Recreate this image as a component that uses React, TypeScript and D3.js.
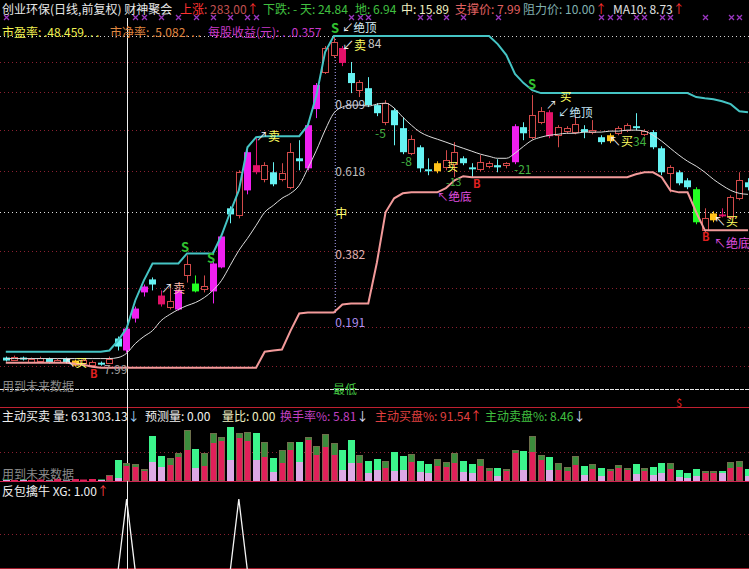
import React from "react";
import * as d3 from "d3";

const W = 749;
const H = 569;
const FONT = '"Noto Sans CJK SC","Noto Sans",sans-serif';

// candle kinds: c cyan, r hollow red, m magenta, k crimson, y yellow, g green
const KIND = ("crcrrcrcyrrcr" + "cmmmckrmrgrmm" + "crmkrcrrcmmrr" + "kcrccrccrccyr" + "rccrrcrmcrrkr" + "rrcrcyrrcrccr" + "ccgrykrrc").split("");

const OPEN = [8.51,8.41,8.51,8.31,8.36,8.46,8.31,8.46,8.10,8.25,8.15,8.25,8.25,
  9.48,8.87,10.49,11.82,12.48,11.66,11.05,10.95,12.68,12.27,12.02,11.87,13.09,
  16.09,15.73,17.00,18.28,17.56,17.92,17.56,17.16,18.63,18.12,21.13,23.01,23.87,
  24.23,22.96,22.09,22.19,21.33,20.46,21.07,20.16,18.89,19.19,18.07,17.97,18.17,
  18.33,18.63,18.17,18.07,18.23,18.28,18.28,18.43,20.21,19.70,20.46,20.97,19.80,
  20.01,19.96,20.11,19.96,19.70,19.50,19.90,20.06,20.26,19.85,19.96,19.14,17.87,
  17.92,17.51,17.06,14.97,15.48,15.78,15.63,16.60,17.41];
const HIGH = [8.56,8.61,8.56,8.51,8.56,8.51,8.46,8.51,8.41,8.46,8.36,8.31,8.56,
  9.58,10.04,11.10,12.22,12.58,11.92,12.02,11.97,13.70,12.68,12.68,13.44,14.77,
  16.19,18.02,19.04,19.65,18.43,18.43,18.38,19.40,19.55,20.41,22.45,24.33,24.84,
  24.33,23.52,22.60,22.75,21.43,21.58,21.18,20.72,19.80,19.29,18.63,18.48,19.04,
  19.45,18.73,18.38,18.79,18.48,18.58,18.43,20.36,20.46,21.84,21.23,21.07,20.31,
  20.26,20.82,20.31,20.57,19.80,19.90,20.26,20.41,20.92,20.11,20.06,19.24,18.28,
  18.02,17.62,17.16,16.09,15.94,16.09,16.75,17.92,17.62];
const LOW = [8.31,8.36,8.36,8.25,8.31,8.20,8.25,8.20,8.05,8.20,8.10,8.10,8.20,
  8.87,8.76,10.29,11.61,11.92,11.10,10.95,10.90,12.32,11.82,11.82,11.26,13.04,
  15.33,15.58,16.80,17.82,17.41,17.21,17.46,17.06,18.02,18.02,20.67,22.91,23.72,
  23.31,21.94,21.74,21.23,20.77,20.31,19.29,18.84,18.79,17.92,17.77,17.87,18.02,
  17.67,18.28,17.67,17.97,18.12,17.92,18.12,18.33,19.55,19.60,20.36,19.65,19.19,
  19.90,19.85,19.65,19.85,19.34,19.40,19.80,19.96,20.06,19.75,19.09,17.77,16.90,
  17.26,17.06,15.28,14.87,15.38,15.63,15.53,16.50,17.00];
const CLOSE = [8.36,8.56,8.41,8.46,8.51,8.25,8.41,8.25,8.36,8.41,8.31,8.15,8.46,
  9.07,9.98,11.00,12.12,12.22,11.21,11.36,11.92,13.24,11.87,12.17,13.29,14.66,
  15.78,17.92,18.94,17.92,18.28,17.31,17.87,18.94,18.48,20.31,22.35,24.23,24.53,
  23.47,22.45,22.50,21.33,20.92,21.43,20.31,18.94,19.60,18.12,17.97,18.38,18.53,
  18.94,18.38,18.07,18.43,18.38,18.17,18.38,20.26,19.90,20.82,21.02,19.75,20.21,
  20.16,20.36,19.96,20.06,19.45,19.80,20.16,20.31,20.16,20.01,19.19,17.92,18.17,
  17.36,17.16,15.38,15.58,15.83,15.68,16.65,17.51,17.16];

const RESIST = [8.81,8.81,8.81,8.81,8.81,8.81,8.81,8.81,8.81,8.81,8.81,8.81,8.87,
  9.37,10.00,11.41,12.43,13.29,13.29,13.29,13.29,13.80,13.80,13.80,13.80,14.72,
  15.89,17.00,19.19,19.70,19.75,19.75,19.75,19.75,19.75,20.31,21.84,24.02,24.84,
  24.84,24.84,24.84,24.84,24.84,24.84,24.84,24.84,24.84,24.84,24.84,24.84,24.84,
  24.84,24.84,24.84,24.84,24.84,24.43,23.87,22.91,22.45,22.09,21.94,21.94,21.94,
  21.94,21.94,21.94,21.94,21.94,21.94,21.94,21.94,21.94,21.94,21.94,21.94,21.94,
  21.94,21.94,21.74,21.68,21.63,21.53,21.38,21.02,20.97];
const SUPPORT = [8.25,8.25,8.25,8.25,8.25,8.25,8.25,8.25,8.20,8.15,8.05,7.99,7.99,
  7.99,7.99,7.99,7.99,7.99,7.99,7.99,7.99,7.99,7.99,7.99,7.99,7.99,
  7.99,7.99,7.99,7.99,8.81,8.87,8.92,9.88,10.75,10.80,10.80,10.80,10.80,
  11.21,11.26,11.26,11.26,13.34,15.89,16.60,16.85,16.90,16.90,16.90,16.90,17.11,
  17.51,17.72,17.67,17.67,17.67,17.67,17.67,17.67,17.67,17.67,17.67,17.67,17.67,
  17.67,17.67,17.67,17.67,17.67,17.67,17.67,17.67,17.82,17.92,17.92,17.67,17.00,
  16.90,16.90,15.89,14.97,14.97,14.97,14.97,14.97,14.97];
const MA10 = [8.46,8.46,8.46,8.46,8.46,8.46,8.46,8.46,8.46,8.46,8.46,8.46,8.46,
  8.51,8.73,9.22,9.58,9.88,10.39,10.70,10.95,11.15,11.31,11.56,11.92,12.43,
  13.19,13.95,14.56,15.22,15.89,16.24,16.60,16.85,17.26,18.12,19.04,20.06,20.92,
  21.23,21.33,21.33,21.28,21.38,21.43,21.18,20.72,20.31,19.96,19.75,19.60,19.45,
  19.29,19.14,18.99,18.84,18.73,18.63,18.63,18.89,19.24,19.55,19.70,19.80,19.85,
  19.90,19.90,19.96,19.96,19.96,20.01,20.01,20.06,20.06,20.01,19.80,19.50,19.14,
  18.79,18.48,18.23,17.92,17.56,17.26,17.00,16.85,16.80];

const VOL = [1.5,1,1.5,1,1.5,1,2,1,2,1.5,2,1.5,
  6,21,18,17,12,45,25,23,28,51,32,28,48,
  44,54,48,49,48,39,23,31,39,39,44,35,47,
  38,31,41,26,20,22,20,29,25,27,20,17,22,
  19,28,20,17,22,13,13,12,31,30,45,26,24,
  18,14,25,15,17,13,12,16,13,17,13,14,18,
  18,11,8,12,10,10,10,19,20,12];
const SELL = [0.5,0,0.5,0,0,0.5,0,0.5,0,0,0,0.5,
  1,18,3,3,2,26,11,7,4,20,19,13,10,
  4,33,5,9,27,15,14,13,8,20,3,9,13,
  12,20,23,8,12,11,7,19,14,8,11,9,7,
  5,10,11,9,7,3,8,2,3,19,16,5,13,
  7,4,9,9,5,8,2,3,2,10,3,8,10,
  6,7,5,7,2,2,2,6,6,7];

const TIAN = 24.84;
const DI = 6.94;
const FIB_LEVELS = [0.809, 0.618, 0.5, 0.382, 0.191];
const FIB_LABELS = ["0.809", "0.618", "中", "0.382", "0.191"];
const FIB_COLORS = ["#c8c8d8", "#bcbcbc", "#ffff70", "#e0b0b0", "#b090f0"];
const HIGH_BAR = 38;
const CURSOR_BAR = 14;
const XG_BARS = [14, 27];
const XMARK_BARS = [0, 15, 16, 18, 20, 22, 24, 26, 28, 29, 40, 41, 42, 48, 49, 51, 53, 57, 69, 70, 71, 73, 74, 76, 77, 81, 84, 85];
const GRID_Y = [62, 92, 130, 171, 251, 288, 327, 366];

const COLORS: Record<string, string> = {
  c: "#66f2f2", r: "#d24a4a", m: "#f020f0", k: "#e3126a", y: "#ffc21a", g: "#22ff22",
};

type Part = { t: string; c: string; b?: boolean };
type Ann = { x: number; y: number; p: Part[]; s?: number };

const GREEN_S = "#30c030";
const WHITE = "#f0f0f0";
const YEL = "#ffff60";
const ANNOTS: Ann[] = [
  { x: 331, y: 27, p: [{ t: "S", c: GREEN_S, b: true }], s: 13 },
  { x: 342, y: 27, p: [{ t: "↙", c: WHITE }, { t: "绝顶", c: "#d8f0f8" }], s: 11.5 },
  { x: 342, y: 44, p: [{ t: "↙", c: WHITE }, { t: "卖", c: YEL }] },
  { x: 368, y: 42, p: [{ t: "84", c: "#c8c8c8" }] },
  { x: 256, y: 135, p: [{ t: "↗", c: WHITE }, { t: "卖", c: YEL }] },
  { x: 161, y: 287, p: [{ t: "↗", c: WHITE }, { t: "卖", c: "#ffb8a8" }] },
  { x: 181, y: 246, p: [{ t: "S", c: GREEN_S, b: true }], s: 13 },
  { x: 207, y: 257, p: [{ t: "S", c: GREEN_S, b: true }], s: 13 },
  { x: 64, y: 362, p: [{ t: "↖", c: WHITE }, { t: "买", c: YEL }], s: 11.5 },
  { x: 90, y: 373, p: [{ t: "B", c: "#e02020", b: true }], s: 11 },
  { x: 104, y: 368, p: [{ t: "7.99", c: "#a0a0a0" }] },
  { x: 375, y: 132, p: [{ t: "-5", c: "#40b040" }] },
  { x: 401, y: 160, p: [{ t: "-8", c: "#40b040" }] },
  { x: 447, y: 166, p: [{ t: "买", c: YEL }], s: 11 },
  { x: 446, y: 181, p: [{ t: "-13", c: "#40b040" }], s: 10.5 },
  { x: 437, y: 196, p: [{ t: "↖绝底", c: "#e050e0" }], s: 11.5 },
  { x: 473, y: 183, p: [{ t: "B", c: "#e02020", b: true }], s: 11 },
  { x: 514, y: 168, p: [{ t: "-21", c: "#40b040" }] },
  { x: 528, y: 83, p: [{ t: "S", c: GREEN_S, b: true }], s: 13 },
  { x: 546, y: 104, p: [{ t: "↗", c: WHITE }], s: 11 },
  { x: 560, y: 96, p: [{ t: "买", c: YEL }], s: 11.5 },
  { x: 558, y: 112, p: [{ t: "↙", c: "#c8e8f8" }, { t: "绝顶", c: "#c8e8f8" }], s: 11.5 },
  { x: 609, y: 140, p: [{ t: "↖", c: WHITE }, { t: "买", c: YEL }, { t: "34", c: "#40b040" }] },
  { x: 714, y: 220, p: [{ t: "↖", c: WHITE }, { t: "买", c: YEL }] },
  { x: 702, y: 236, p: [{ t: "B", c: "#e02020", b: true }], s: 11 },
  { x: 714, y: 242, p: [{ t: "↖绝底", c: "#e050e0" }] },
];

type Seg = { x?: number; t: string; c: string };
const ROW1: Seg[] = [
  { x: 2, t: "创业环保(日线,前复权) 财神聚会", c: "#e8e8e8" },
  { x: 180, t: "上涨", c: "#ff3030" },
  { t: ": 283.00", c: "#c05050" },
  { t: "↑", c: "#ff3030" },
  { x: 263, t: "下跌: - 天: 24.84", c: "#40c040" },
  { x: 355, t: "地: 6.94", c: "#40c040" },
  { x: 401, t: "中: 15.89", c: "#f0f0c0" },
  { x: 455, t: "支撑价: 7.99", c: "#e06060" },
  { x: 523, t: "阻力价: 10.00", c: "#80b0b0" },
  { t: "↑", c: "#ff3030" },
  { x: 613, t: "MA10: 8.73", c: "#e0e0e0" },
  { t: "↑", c: "#ff3030" },
];
const ROW2: Seg[] = [
  { x: 2, t: "市盈率: .48.459. . .", c: "#f0f050" },
  { x: 110, t: "市净率: .5.082. . .", c: "#e08840" },
  { x: 208, t: "每股收益(元): . .0.357", c: "#c838c8" },
];
const ROW_VOL: Seg[] = [
  { x: 2, t: "主动买卖", c: "#f0f0f0" },
  { x: 53, t: "量: 631303.13", c: "#f0f0f0" },
  { t: "↓", c: "#a8d8ff" },
  { x: 145, t: "预测量: 0.00", c: "#f0f0f0" },
  { x: 222, t: "量比: 0.00", c: "#f0f0c0" },
  { x: 280, t: "换手率%: 5.81", c: "#c040c0" },
  { t: "↓", c: "#e0e0ff" },
  { x: 375, t: "主动买盘%: 91.54", c: "#e04040" },
  { t: "↑", c: "#ff4040" },
  { x: 485, t: "主动卖盘%: 8.46", c: "#40c040" },
  { t: "↓", c: "#e0e0ff" },
];
const ROW_XG: Seg[] = [
  { x: 2, t: "反包擒牛 XG: 1.00", c: "#f0f0f0" },
  { t: "↑", c: "#ff4040" },
];

function Txt({ x, y, c, t, b, s, anchor }: { x: number; y: number; c: string; t: string; b?: boolean; s?: number; anchor?: string }) {
  return (
    <text x={x} y={y} fill={c} fontSize={s ?? 12} fontWeight={b ? "bold" : "normal"} fontFamily={FONT}
      dominantBaseline="central" textAnchor={anchor ?? "start"}>{t}</text>
  );
}

function Row({ segs, y }: { segs: Seg[]; y: number }) {
  return (
    <text y={y} fontSize={12} fontFamily={FONT} dominantBaseline="central">
      {segs.map((s, j) => (
        <tspan key={j} x={s.x} fill={s.c}>{s.t}</tspan>
      ))}
    </text>
  );
}

function Annot({ a }: { a: Ann }) {
  return (
    <text x={a.x} y={a.y} fontSize={a.s ?? 12} fontFamily={FONT} dominantBaseline="central">
      {a.p.map((p, j) => (
        <tspan key={j} fill={p.c} fontWeight={p.b ? "bold" : "normal"}>{p.t}</tspan>
      ))}
    </text>
  );
}

export default function App() {
  const n = KIND.length;
  const step = 8.63;
  const x = d3.scaleBand<number>().domain(d3.range(n)).range([1.5, 1.5 + n * step]).paddingInner(0.25).paddingOuter(0.125);
  const bw = x.bandwidth();
  const cx = (i: number) => (x(i) as number) + bw / 2;
  const y = d3.scaleLinear().domain([DI, TIAN]).range([388.5, 36]);
  const yv = d3.scaleLinear().domain([0, 60]).range([481, 421]);
  const yx = d3.scaleLinear().domain([0, 1]).range([571, 499]);

  const lineOf = (arr: number[], curve = d3.curveLinear) =>
    d3.line<number>().x((_, i) => cx(i)).y((v) => y(v)).curve(curve)(arr) as string;

  const xgVals = d3.range(n).map((i) => (XG_BARS.includes(i) ? 1 : 0));
  const xgPath = d3.line<number>().x((_, i) => cx(i)).y((v) => yx(v))(xgVals) as string;

  const cursorX = Math.round(cx(CURSOR_BAR)) + 0.5;
  const fibX = cx(HIGH_BAR) + 1.5;
  const fibPrice = (l: number) => DI + l * (TIAN - DI);

  return (
    <svg width={W} height={H} style={{ position: "absolute", left: 0, top: 0, display: "block", background: "#000" }}>
      <rect x={0} y={0} width={W} height={H} fill="#000" />
      {GRID_Y.map((gy) => (
        <line key={gy} x1={0} x2={W} y1={gy + 0.5} y2={gy + 0.5} stroke="#8a2030" strokeDasharray="1,3" />
      ))}
      <line x1={0} x2={W} y1={452.5} y2={452.5} stroke="#8a2030" strokeDasharray="1,3" />
      <line x1={0} x2={W} y1={534.5} y2={534.5} stroke="#8a2030" strokeDasharray="1,3" />
      <line x1={0} x2={W} y1={Math.round(y(TIAN)) + 0.5} y2={Math.round(y(TIAN)) + 0.5} stroke="#d0d0d0" strokeDasharray="1,3" />
      <line x1={0} x2={W} y1={Math.round(y(fibPrice(0.5))) + 0.5} y2={Math.round(y(fibPrice(0.5))) + 0.5} stroke="#e0e0e0" strokeDasharray="1,3" />
      <line x1={0} x2={W} y1={Math.round(y(DI)) + 0.5} y2={Math.round(y(DI)) + 0.5} stroke="#e8e8e8" strokeDasharray="4,1" />
      <line x1={fibX} x2={fibX} y1={y(TIAN)} y2={y(fibPrice(0.191)) - 8} stroke="#b0a8ff" strokeDasharray="1,2" />

      <line x1={0} x2={W} y1={407.5} y2={407.5} stroke="#c02030" />
      <line x1={0} x2={W} y1={481.5} y2={481.5} stroke="#d02050" />
      <line x1={0} x2={W} y1={568.5} y2={568.5} stroke="#a01828" />

      <line x1={cursorX} x2={cursorX} y1={18} y2={H} stroke="#f0f0f0" />

      {d3.range(n).map((i) => {
        const k = KIND[i];
        const col = COLORS[k];
        const o = OPEN[i], c = CLOSE[i];
        const top = y(Math.max(o, c));
        const bot = y(Math.min(o, c));
        const rx = Math.round(x(i) as number);
        const wx = rx + 3.5;
        const hollow = k === "r";
        return (
          <g key={"c" + i}>
            <line x1={wx} x2={wx} y1={y(HIGH[i])} y2={y(LOW[i])} stroke={col} />
            {hollow ? (
              <rect x={rx + 0.5} y={Math.round(top) + 0.5} width={6} height={Math.max(1, Math.round(bot - top))} fill="#000" stroke={col} />
            ) : (
              <rect x={rx} y={top} width={7} height={Math.max(1.5, bot - top)} fill={col} />
            )}
          </g>
        );
      })}

      <path d={lineOf(SUPPORT)} fill="none" stroke="#f29a9a" strokeWidth={2} />
      <path d={lineOf(RESIST)} fill="none" stroke="#45c4c4" strokeWidth={2} />
      <path d={lineOf(MA10, d3.curveMonotoneX)} fill="none" stroke="#dcdcdc" strokeWidth={1} />

      {FIB_LEVELS.map((l, j) => (
        <Txt key={"f" + j} x={fibX} y={y(fibPrice(l))} c={FIB_COLORS[j]} t={FIB_LABELS[j]} />
      ))}

      {ANNOTS.map((a, j) => <Annot key={"a" + j} a={a} />)}
      <Txt x={333} y={y(DI)} c="#40c040" t="最低" />
      <Txt x={2} y={385} c="#8a8a8a" t="用到未来数据" />
      <Txt x={cx(78)} y={402} c="#e02020" t="$" s={11} anchor="middle" />

      {d3.range(n).map((i) => {
        const down = CLOSE[i] < OPEN[i];
        const rx = Math.round(x(i) as number);
        const v = VOL[i], s = SELL[i];
        const topC = down ? "#3cf58c" : "#3c8c3c";
        const botC = down ? "#dcaae6" : "#e2205a";
        return (
          <g key={"v" + i}>
            <rect x={rx} y={yv(v)} width={7} height={yv(v - s) - yv(v)} fill={topC} />
            <rect x={rx} y={yv(v - s)} width={7} height={yv(0) - yv(v - s)} fill={botC} />
            {!down && v > 3 && (
              <rect x={rx + 0.5} y={yv(v) + 0.5} width={6} height={yv(0) - yv(v) - 1} fill="none" stroke="#7a6a50" strokeWidth={0.8} />
            )}
          </g>
        );
      })}
      <Txt x={2} y={473} c="#8a8a8a" t="用到未来数据" />

      <path d={xgPath} fill="none" stroke="#f4f4f4" strokeWidth={1.3} />

      {XMARK_BARS.map((b) => {
        const mx = Math.round(cx(b)) + 0.5;
        return (
          <path key={"x" + b} d={`M${mx - 2.5},${15} L${mx + 2.5},${20} M${mx + 2.5},${15} L${mx - 2.5},${20}`}
            stroke="#9a36c0" strokeWidth={1.3} fill="none" />
        );
      })}
      <Row segs={ROW1} y={8} />
      <Row segs={ROW2} y={31} />
      <Row segs={ROW_VOL} y={415} />
      <Row segs={ROW_XG} y={490} />
    </svg>
  );
}
